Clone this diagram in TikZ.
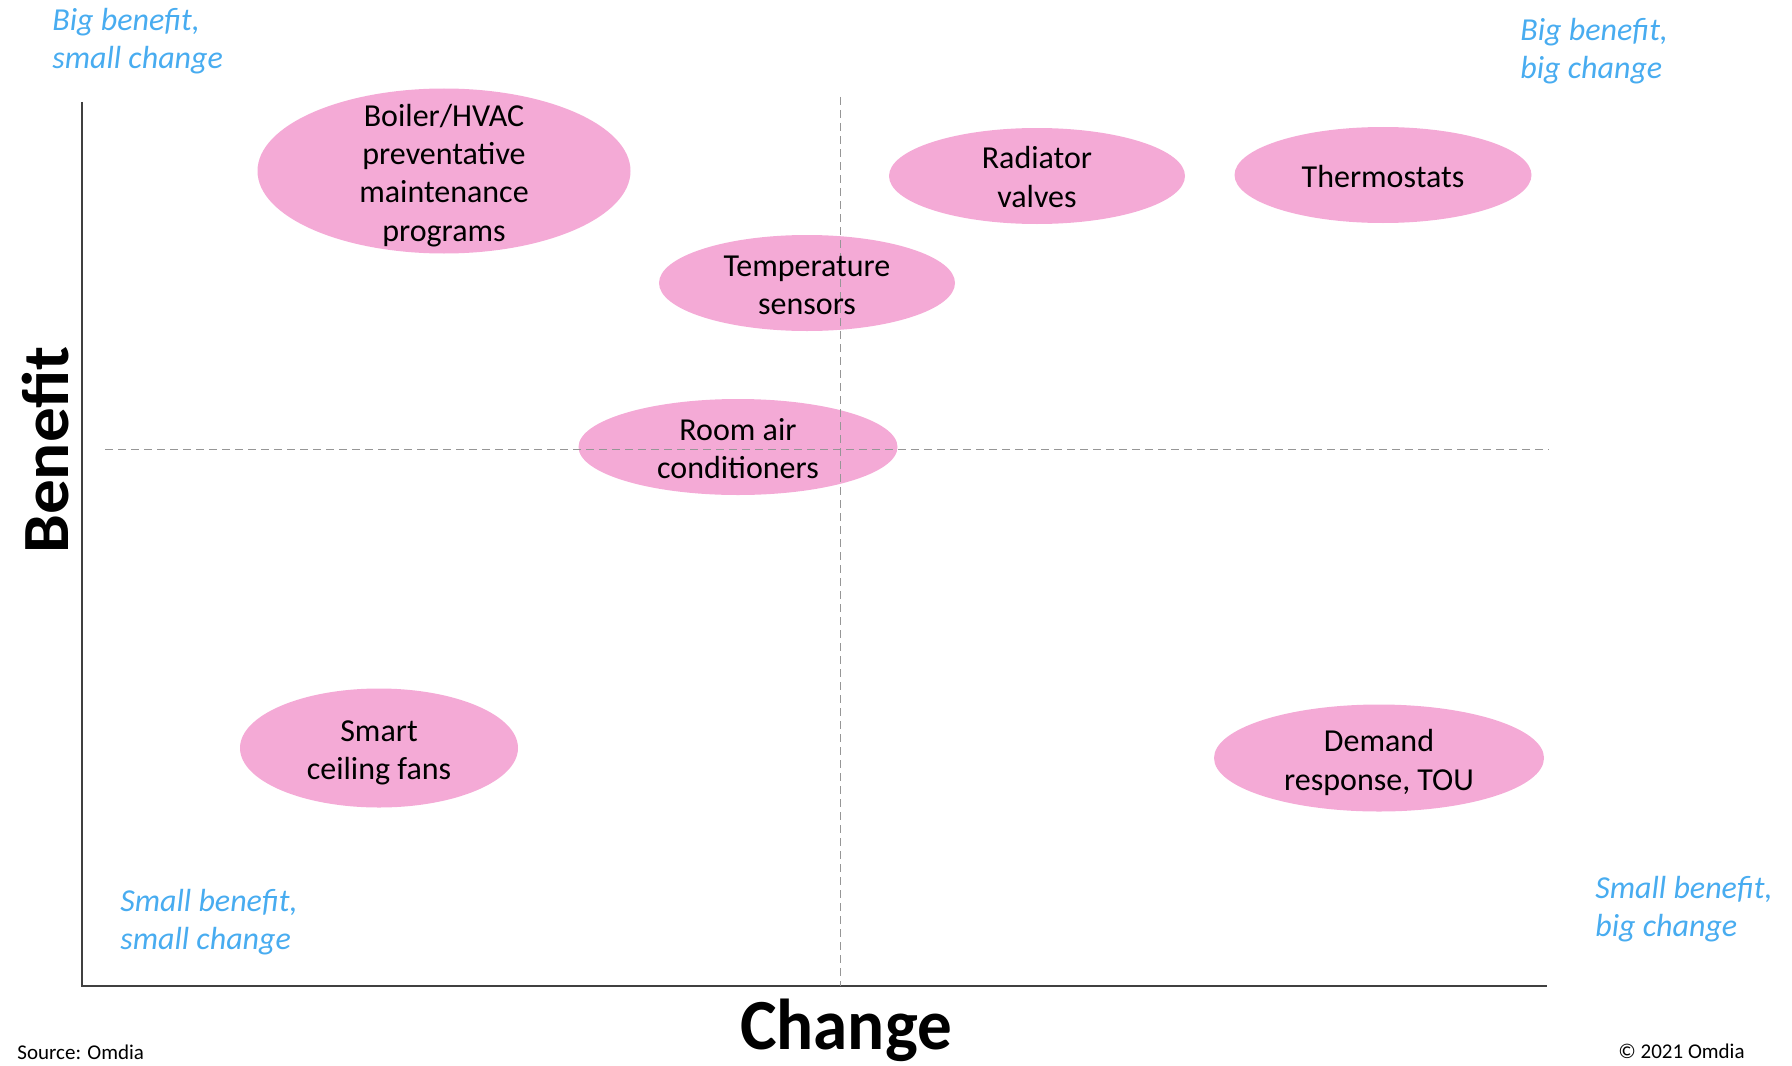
\documentclass[tikz,border=0pt]{standalone}
\usepackage{fontspec}
\usepackage{graphicx}
\setmainfont{Carlito}
\usetikzlibrary{shapes.geometric}
\definecolor{bubpink}{RGB}{244,170,214}
\definecolor{quadblue}{RGB}{72,172,240}
\definecolor{dashgray}{RGB}{150,150,150}
\definecolor{axisgray}{RGB}{64,64,64}
\tikzset{
  bub/.style={ellipse, fill=bubpink, inner sep=0pt},
  bubtext/.style={align=center, inner sep=0pt, yshift=-1pt, font=\fontsize{16pt}{19.1pt}\selectfont},
  quad/.style={align=left, inner sep=0pt, text=quadblue, font=\fontsize{16pt}{18.9pt}\selectfont\itshape},
  axistitle/.style={inner sep=0pt, font=\fontsize{33pt}{38pt}\selectfont\bfseries},
  foot/.style={inner sep=0pt, font=\fontsize{10.5pt}{12pt}\selectfont},
  axisline/.style={draw=axisgray, line width=0.75pt},
  midline/.style={draw=dashgray, line width=0.5pt, dash pattern=on 4pt off 2.5pt}
}
\begin{document}
\begin{tikzpicture}[x=0.5pt,y=-0.5pt]
\useasboundingbox (0,0) rectangle (1792,1065);
% axes
\coordinate (origin) at (82,986);
\coordinate (ytop) at (82,102);
\coordinate (xend) at (1547,986);
\draw[axisline] (ytop) -- (origin) -- (xend);
% bubbles
\node[bub, minimum width=186.5pt, minimum height=82.5pt] (boiler) at (444,171) {};
\node[bub, minimum width=148pt, minimum height=48pt] (radiator) at (1037,176) {};
\node[bub, minimum width=148.5pt, minimum height=48pt] (thermo) at (1383,175) {};
\node[bub, minimum width=148pt, minimum height=48pt] (tempsens) at (807,283) {};
\node[bub, minimum width=159.5pt, minimum height=48pt] (roomac) at (738,447) {};
\node[bub, minimum width=139pt, minimum height=59.5pt] (fans) at (379,748) {};
\node[bub, minimum width=165pt, minimum height=53.5pt] (demand) at (1379,758) {};
% dashed quadrant lines
\coordinate (vtop) at (840,97);
\coordinate (vbot) at (840,986);
\coordinate (hleft) at (105,449);
\coordinate (hright) at (1549,449);
\draw[midline] (vtop) -- (vbot);
\draw[midline] (hleft) -- (hright);
% bubble texts
\node[bubtext, yshift=-1.25pt] (boilerT) at (boiler.center) {Boiler/HVAC\\preventative\\maintenance\\programs};
\node[bubtext, yshift=0.5pt] (radiatorT) at (radiator.center) {Radiator\\valves};
\node[bubtext] (thermoT) at (thermo.center) {Thermostats};
\node[bubtext] (tempsensT) at (tempsens.center) {Temperature\\sensors};
\node[bubtext] (roomacT) at (roomac.center) {Room air\\conditioners};
\node[bubtext, yshift=-1.25pt] (fansT) at (fans.center) {Smart\\ceiling fans};
\node[bubtext, yshift=-1.25pt] (demandT) at (demand.center) {Demand\\response, TOU};
% quadrant labels (base = last line)
\node[quad, anchor=base west] (qTL) at (52,68.5) {Big benefit,\\small change};
\node[quad, anchor=base west] (qTR) at (1520,78.5) {Big benefit,\\big change};
\node[quad, anchor=base west] (qBL) at (120,949.5) {Small benefit,\\small change};
\node[quad, anchor=base west] (qBR) at (1595,936.5) {Small benefit,\\big change};
% axis titles
\node[axistitle, anchor=base, rotate=90] (benefit) at (68,450) {\scalebox{1.05}[1]{Benefit}};
\node[axistitle, anchor=base, font=\fontsize{36pt}{40pt}\selectfont\bfseries] (change) at (846,1049) {\scalebox{0.96}[1]{Change}};
% footers
\node[foot, anchor=base west] (source) at (17,1059) {Source: Omdia};
\node[foot, anchor=base east] (copy) at (1745,1058) {© 2021 Omdia};
\end{tikzpicture}
\end{document}
